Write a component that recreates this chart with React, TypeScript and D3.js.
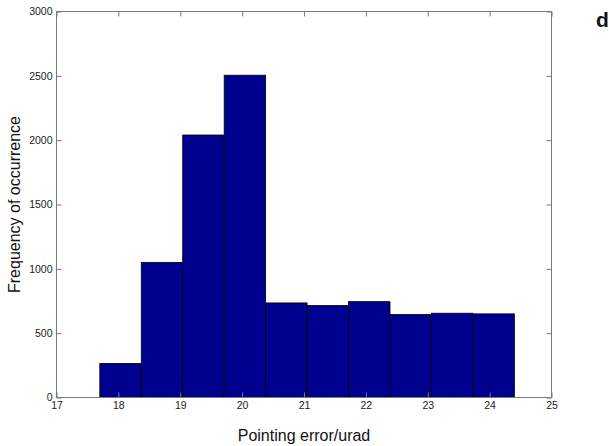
import React, { useEffect, useRef } from 'react';
import * as d3 from 'd3';

// histogram bins (edges) and counts
const binEdges = [17.7, 18.37, 19.04, 19.71, 20.38, 21.05, 21.72, 22.39, 23.06, 23.73, 24.4];
const counts = [265, 1050, 2040, 2505, 735, 715, 745, 645, 655, 650];
const xTicks = [17, 18, 19, 20, 21, 22, 23, 24, 25];
const yTicks = [0, 500, 1000, 1500, 2000, 2500, 3000];

const xLabel = 'Pointing error/urad';
const yLabel = 'Frequency of occurrence';
const panelLabel = 'd';

export default function App() {
  const ref = useRef<SVGSVGElement>(null);

  useEffect(() => {
    const width = 609;
    const height = 446;
    const left = 56.5, right = 551.5, top = 11.5, bottom = 397.5;

    const svg = d3.select(ref.current);
    svg.selectAll('*').remove();

    const x = d3.scaleLinear().domain([17, 25]).range([left, right]);
    const y = d3.scaleLinear().domain([0, 3000]).range([bottom, top]);

    const bins = counts.map((c, i) => ({ x0: binEdges[i], x1: binEdges[i + 1], c }));

    svg.append('g')
      .selectAll('rect')
      .data(bins)
      .enter()
      .append('rect')
      .attr('x', d => x(d.x0))
      .attr('y', d => y(d.c))
      .attr('width', d => x(d.x1) - x(d.x0))
      .attr('height', d => y(0) - y(d.c))
      .attr('fill', '#00008f')
      .attr('stroke', '#000')
      .attr('stroke-width', 0.8);

    const font = 'Liberation Sans, Arial, sans-serif';
    const axisColor = '#7a7a7a';

    const styleAxis = (g: any) => {
      g.select('.domain').remove();
      g.selectAll('line').attr('stroke', axisColor);
      g.selectAll('text').attr('fill', '#222').style('font-size', '10.5px').style('font-family', font);
    };

    svg.append('g')
      .attr('transform', `translate(0,${bottom})`)
      .call(d3.axisBottom(x).tickValues(xTicks).tickSizeInner(-5).tickSizeOuter(0).tickPadding(4).tickFormat(d3.format('d')))
      .call(styleAxis);

    svg.append('g')
      .attr('transform', `translate(0,${top})`)
      .call(d3.axisTop(x).tickValues(xTicks).tickSizeInner(-5).tickSizeOuter(0).tickFormat(() => ''))
      .call(styleAxis);

    svg.append('g')
      .attr('transform', `translate(${left},0)`)
      .call(d3.axisLeft(y).tickValues(yTicks).tickSizeInner(-5).tickSizeOuter(0).tickPadding(4).tickFormat(d3.format('d')))
      .call(styleAxis);

    svg.append('g')
      .attr('transform', `translate(${right},0)`)
      .call(d3.axisRight(y).tickValues(yTicks).tickSizeInner(-5).tickSizeOuter(0).tickFormat(() => ''))
      .call(styleAxis);

    // box
    svg.append('rect')
      .attr('x', left).attr('y', top)
      .attr('width', right - left).attr('height', bottom - top)
      .attr('fill', 'none')
      .attr('stroke', axisColor)
      .attr('stroke-width', 1);

    svg.append('text')
      .attr('x', (left + right) / 2)
      .attr('y', 441)
      .attr('text-anchor', 'middle')
      .style('font-family', font)
      .style('font-size', '16px')
      .attr('fill', '#111')
      .text(xLabel);

    svg.append('text')
      .attr('transform', `translate(20,${(top + bottom) / 2}) rotate(-90)`)
      .attr('text-anchor', 'middle')
      .style('font-family', font)
      .style('font-size', '16px')
      .attr('fill', '#111')
      .text(yLabel);

    svg.append('text')
      .attr('x', 596)
      .attr('y', 27)
      .style('font-family', font)
      .style('font-size', '21px')
      .style('font-weight', 'bold')
      .attr('fill', '#111')
      .text(panelLabel);

    svg.attr('width', width).attr('height', height);
  }, []);

  return (
    <svg ref={ref} width={609} height={446} style={{ position: 'absolute', left: 0, top: 0, background: '#fff' }} />
  );
}
